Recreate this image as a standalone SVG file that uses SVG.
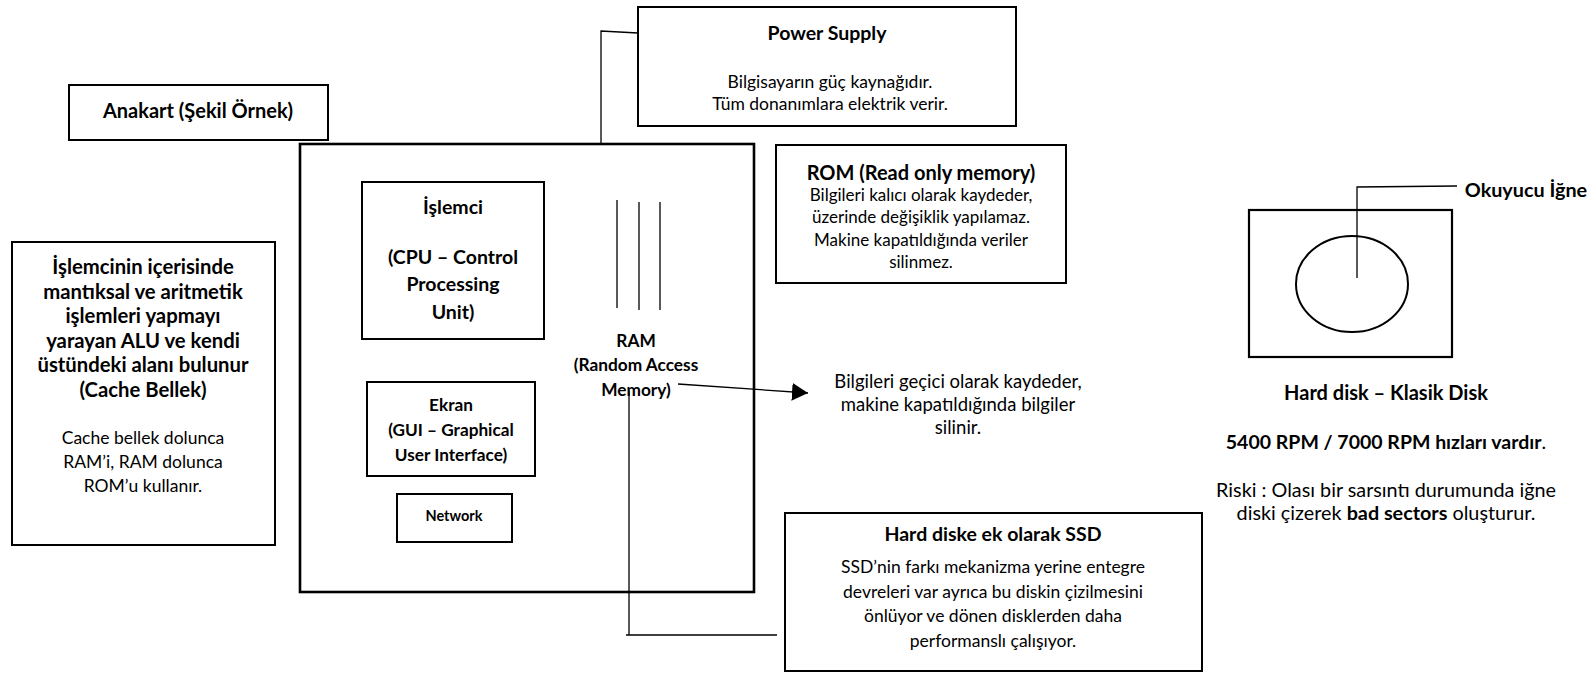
<svg xmlns="http://www.w3.org/2000/svg" width="1593" height="673" viewBox="0 0 1593 673">
<style>
text{font-family:Lato,"Open Sans","DejaVu Sans",sans-serif;fill:#000;text-anchor:middle}
.b{font-weight:bold}
.box{fill:#fff;stroke:#000;stroke-width:2}
.thin{fill:none;stroke:#000;stroke-width:1.3}
</style>
<defs>
<marker id="ah" markerWidth="16" markerHeight="18" refX="16" refY="9" orient="auto" markerUnits="userSpaceOnUse">
<path d="M0,0 L16,9 L0,18 Z" fill="#000"/>
</marker>
</defs>
<rect width="1593" height="673" fill="#fff"/>

<g id="connectors">
<path class="thin" d="M638,33 L601,31 L601,144"/>
<path class="thin" d="M678,384 L808,393" marker-end="url(#ah)"/>
<path class="thin" d="M629,391 L629,635 M626,635 L777,635"/>
<path class="thin" d="M1457,186 L1357,187 L1357,278"/>
</g>

<g id="anakart">
<rect class="box" x="69" y="85" width="259" height="55"/>
<text class="b" x="198" y="118" font-size="20">Anakart (Şekil Örnek)</text>
</g>

<g id="power-supply">
<rect class="box" x="638" y="7" width="378" height="119"/>
<text class="b" x="827" y="40" font-size="19.5">Power Supply</text>
<text x="830" y="88" font-size="17.5">Bilgisayarın güç kaynağıdır.</text>
<text x="830" y="110" font-size="17.5">Tüm donanımlara elektrik verir.</text>
</g>

<g id="anakart-board">
<rect x="300" y="144" width="454" height="448" fill="none" stroke="#000" stroke-width="2.6"/>
</g>

<g id="cpu" font-size="19.5">
<rect class="box" x="362" y="182" width="182" height="157"/>
<text class="b" x="453" y="214">İşlemci</text>
<text class="b" x="453" y="264">(CPU – Control</text>
<text class="b" x="453" y="291">Processing</text>
<text class="b" x="453" y="319">Unit)</text>
</g>

<g id="ram" font-size="17.3">
<path class="thin" d="M617,200 L617,308 M639,202 L639,310 M660,202 L660,310"/>
<text class="b" x="636" y="347">RAM</text>
<text class="b" x="636" y="371">(Random Access</text>
<text class="b" x="636" y="396">Memory)</text>
</g>

<g id="ram-desc" font-size="18.5">
<text x="958" y="388">Bilgileri geçici olarak kaydeder,</text>
<text x="958" y="411">makine kapatıldığında bilgiler</text>
<text x="958" y="434">silinir.</text>
</g>

<g id="ekran" font-size="17.2">
<rect class="box" x="367" y="382" width="168" height="94"/>
<text class="b" x="451" y="411">Ekran</text>
<text class="b" x="451" y="436">(GUI – Graphical</text>
<text class="b" x="451" y="461">User Interface)</text>
</g>

<g id="network">
<rect class="box" x="397" y="494" width="115" height="48"/>
<text class="b" x="454" y="521" font-size="14.5">Network</text>
</g>

<g id="rom" font-size="17">
<rect class="box" x="776" y="145" width="290" height="138"/>
<text class="b" x="921" y="180" font-size="20">ROM (Read only memory)</text>
<text x="921" y="201">Bilgileri kalıcı olarak kaydeder,</text>
<text x="921" y="223">üzerinde değişiklik yapılamaz.</text>
<text x="921" y="246">Makine kapatıldığında veriler</text>
<text x="921" y="268">silinmez.</text>
</g>

<g id="alu">
<rect class="box" x="12" y="242" width="263" height="303"/>
<g class="b" font-size="20.3">
<text x="143" y="274">İşlemcinin içerisinde</text>
<text x="143" y="299">mantıksal ve aritmetik</text>
<text x="143" y="323">işlemleri yapmayı</text>
<text x="143" y="348">yarayan ALU ve kendi</text>
<text x="143" y="372">üstündeki alanı bulunur</text>
<text x="143" y="397">(Cache Bellek)</text>
</g>
<g font-size="17.5">
<text x="143" y="444">Cache bellek dolunca</text>
<text x="143" y="468">RAM’i, RAM dolunca</text>
<text x="143" y="492">ROM’u kullanır.</text>
</g>
</g>

<g id="ssd" font-size="17.5">
<rect class="box" x="785" y="513" width="417" height="158"/>
<text class="b" x="993" y="541" font-size="19.5">Hard diske ek olarak SSD</text>
<text x="993" y="573">SSD’nin farkı mekanizma yerine entegre</text>
<text x="993" y="598">devreleri var ayrıca bu diskin çizilmesini</text>
<text x="993" y="622">önlüyor ve dönen disklerden daha</text>
<text x="993" y="647">performanslı çalışıyor.</text>
</g>

<g id="hard-disk">
<rect x="1249" y="210" width="203" height="147" fill="none" stroke="#000" stroke-width="2.2"/>
<ellipse cx="1352" cy="284" rx="56" ry="48" fill="none" stroke="#000" stroke-width="2"/>
<text class="b" x="1526" y="197" font-size="19.8">Okuyucu İğne</text>
<text class="b" x="1386" y="400" font-size="20">Hard disk – Klasik Disk</text>
<text class="b" x="1386" y="449" font-size="19.5">5400 RPM / 7000 RPM hızları vardır<tspan font-weight="normal">.</tspan></text>
<text x="1386" y="497" font-size="19.8">Riski : Olası bir sarsıntı durumunda iğne</text>
<text x="1386" y="520" font-size="19.8">diski çizerek <tspan font-weight="bold">bad sectors</tspan> oluşturur.</text>
</g>
</svg>
